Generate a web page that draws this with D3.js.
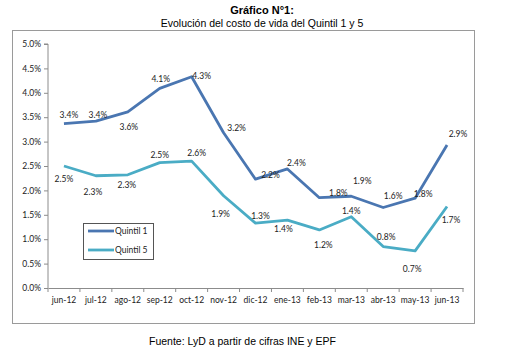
<!DOCTYPE html>
<html><head><meta charset="utf-8">
<script src="https://cdn.jsdelivr.net/npm/d3@7"></script>
<style>body{margin:0;background:#fff}svg{display:block}</style>
</head><body>
<svg id="c" width="523" height="356"></svg>
<script>
const categories = ["jun-12","jul-12","ago-12","sep-12","oct-12","nov-12","dic-12","ene-13","feb-13","mar-13","abr-13","may-13","jun-13"];
const quintil1 = [3.37,3.42,3.61,4.09,4.33,3.18,2.23,2.44,1.85,1.88,1.65,1.84,2.93];
const quintil5 = [2.50,2.30,2.32,2.57,2.60,1.89,1.33,1.39,1.19,1.46,0.85,0.76,1.67];
const q1Labels = ["3.4%","3.4%","3.6%","4.1%","4.3%","3.2%","2.2%","2.4%","1.8%","1.9%","1.6%","1.8%","2.9%"];
const q5Labels = ["2.5%","2.3%","2.3%","2.5%","2.6%","1.9%","1.3%","1.4%","1.2%","1.4%","0.8%","0.7%","1.7%"];
const yTicks = [0,0.5,1,1.5,2,2.5,3,3.5,4,4.5,5];
const seriesNames = ["Quintil 1","Quintil 5"];
// label placement offsets (layout only)
const q1Dx = [5,2,1,1,10,13,15,9,19,11,10,8,11];
const q1Dy = [-9,-6,15,-9,-1,-5,-4,-6,-5,-15,-11,-4,-11];
const q5Dx = [0,-3,-1,0,5,-3,5,-4,4,0,3,-3,4];
const q5Dy = [13,16,10,-8,-8,18,-7,9,15,-6,-10,18,13];

const svg = d3.select("#c");
const font = "Lato, 'Open Sans', sans-serif";
const m = {l:48, r:463, t:44, b:288};
const x = d3.scaleBand().domain(categories).range([m.l, m.r]);
const y = d3.scaleLinear().domain([0,5]).range([m.b, m.t]);
const cx = d => x(d) + x.bandwidth()/2;

// outer box
svg.append("rect").attr("x",12.5).attr("y",30.5).attr("width",462).attr("height",293)
  .attr("fill","none").attr("stroke","#9a9a9a").attr("stroke-width",1);

// titles
svg.append("text").attr("x",262).attr("y",14).attr("text-anchor","middle")
  .attr("font-family","'Liberation Sans', Arial, sans-serif").attr("font-weight","bold").attr("font-size",11).text("Gráfico N°1:");
svg.append("text").attr("x",262).attr("y",27).attr("text-anchor","middle")
  .attr("font-family","'Liberation Sans', Arial, sans-serif").attr("font-size",10.5).text("Evolución del costo de vida del Quintil 1 y 5");
svg.append("text").attr("x",149).attr("y",345)
  .attr("font-family","'Liberation Sans', Arial, sans-serif").attr("font-size",10.5).text("Fuente: LyD a partir de cifras INE y EPF");

// axes
const yAx = svg.append("g").attr("transform",`translate(${m.l},0)`)
  .call(d3.axisLeft(y).tickValues(yTicks).tickSize(4).tickFormat(d => d.toFixed(1)+"%"));
const xAx = svg.append("g").attr("transform",`translate(0,${m.b})`)
  .call(d3.axisBottom(x).tickSize(0).tickPadding(9));
// category boundary ticks
svg.append("g").selectAll("line").data(d3.range(categories.length+1)).join("line")
  .attr("x1",i=>m.l + i*x.step()).attr("x2",i=>m.l + i*x.step())
  .attr("y1",m.b).attr("y2",m.b+4).attr("stroke","#8c8c8c");
[yAx,xAx].forEach(g=>{
  g.selectAll("path,line").attr("stroke","#8c8c8c");
  g.selectAll("text").attr("font-family",font).attr("font-size",8.5).attr("fill","#222");
});
yAx.select(".domain").attr("d",`M-4,${m.t}H0V${m.b}`);

// lines
const colors = ["#4a76b1","#4aacc5"];
const line = d3.line().x((d,i)=>cx(categories[i])).y(d=>y(d));
[quintil1,quintil5].forEach((s,k)=>{
  svg.append("path").datum(s).attr("d",line).attr("fill","none")
    .attr("stroke",colors[k]).attr("stroke-width",2.8).attr("stroke-linejoin","round");
});
// labels
function labels(vals, txt, dx, dy){
  svg.append("g").selectAll("text").data(vals).join("text")
    .attr("x",(d,i)=>cx(categories[i])+dx[i]).attr("y",(d,i)=>y(d)+dy[i]+3)
    .attr("text-anchor","middle").attr("font-family",font).attr("font-size",8.5).attr("fill","#222")
    .text((d,i)=>txt[i]);
}
labels(quintil1,q1Labels,q1Dx,q1Dy);
labels(quintil5,q5Labels,q5Dx,q5Dy);

// legend
const lg = svg.append("g");
lg.append("rect").attr("x",83.5).attr("y",223.5).attr("width",70).attr("height",36)
  .attr("fill","#fff").attr("stroke","#555");
seriesNames.forEach((n,k)=>{
  const yy = 231 + k*19;
  lg.append("line").attr("x1",88).attr("x2",114).attr("y1",yy).attr("y2",yy)
    .attr("stroke",colors[k]).attr("stroke-width",2.8);
  lg.append("text").attr("x",115).attr("y",yy+3).attr("font-family",font).attr("font-size",8.5).attr("fill","#222").text(n);
});
</script>
</body></html>
